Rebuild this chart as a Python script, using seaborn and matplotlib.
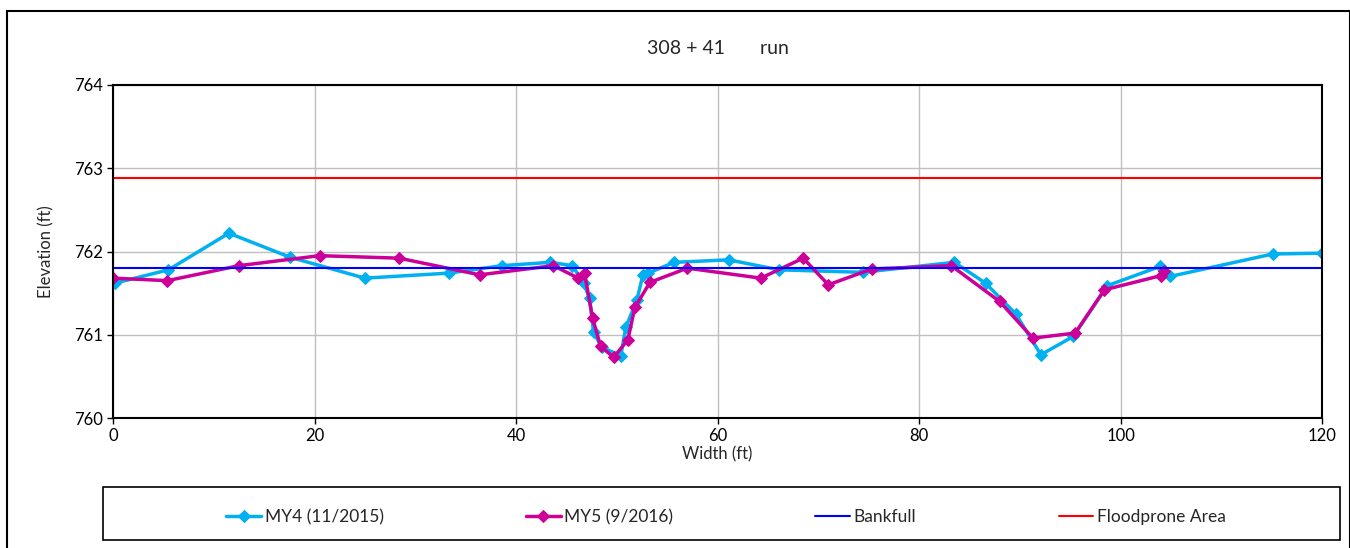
import matplotlib
matplotlib.use('Agg')
import matplotlib.pyplot as plt
import seaborn as sns
import pandas as pd
from matplotlib.patches import Rectangle

# cross-section survey data
my4_x = [0.2, 5.5, 11.5, 17.6, 25.0, 33.3, 38.6, 43.4, 45.6, 46.7, 47.3, 47.7, 48.5,
         50.4, 50.9, 52.0, 52.6, 53.1, 55.7, 61.1, 66.1, 74.4, 83.5, 86.6, 89.6,
         92.1, 95.3, 98.7, 103.9, 104.9, 115.1, 120.0]
my4_y = [761.62, 761.78, 762.22, 761.93, 761.68, 761.74, 761.83, 761.87, 761.83, 761.62,
         761.44, 761.03, 760.85, 760.75, 761.09, 761.42, 761.72, 761.74, 761.87, 761.90,
         761.78, 761.75, 761.87, 761.62, 761.25, 760.76, 760.98, 761.59, 761.82, 761.70,
         761.97, 761.98]
my5_x = [0.0, 5.4, 12.5, 20.5, 28.4, 36.4, 43.7, 46.2, 46.8, 47.6, 48.4, 49.7, 51.1,
         51.8, 53.3, 57.0, 64.3, 68.5, 71.0, 75.3, 83.2, 88.0, 91.3, 95.5, 98.4,
         104.0, 104.3]
my5_y = [761.68, 761.65, 761.83, 761.95, 761.92, 761.72, 761.83, 761.68, 761.74, 761.20,
         760.86, 760.73, 760.94, 761.33, 761.63, 761.80, 761.68, 761.92, 761.60, 761.79,
         761.83, 761.40, 760.96, 761.02, 761.54, 761.71, 761.77]
bankfull = 761.80
floodprone = 762.88

sns.set_style('white')
plt.rcParams['font.family'] = ['Lato', 'DejaVu Sans']

fig = plt.figure(figsize=(13.5, 5.48), dpi=100)
ax = fig.add_axes([0.0837, 0.2372, 0.8956, 0.6077])

df4 = pd.DataFrame({'x': my4_x, 'y': my4_y})
df5 = pd.DataFrame({'x': my5_x, 'y': my5_y})

sns.lineplot(data=df4, x='x', y='y', sort=False, estimator=None, ax=ax,
             color='#00B0F0', linewidth=2.5, marker='D', markersize=6,
             markeredgecolor='#00B0F0', label='MY4 (11/2015)')
sns.lineplot(data=df5, x='x', y='y', sort=False, estimator=None, ax=ax,
             color='#CC0099', linewidth=2.5, marker='D', markersize=6,
             markeredgecolor='#CC0099', label='MY5 (9/2016)')
sns.lineplot(x=[0, 120], y=[bankfull, bankfull], ax=ax, color='#0000FF',
             linewidth=1.5, label='Bankfull')
sns.lineplot(x=[0, 120], y=[floodprone, floodprone], ax=ax, color='#FF0000',
             linewidth=1.5, label='Floodprone Area')

ax.set_xlim(0, 120)
ax.set_ylim(760, 764)
ax.set_xticks(range(0, 121, 20))
ax.set_yticks(range(760, 765))
ax.grid(True, color='#BFBFBF', linewidth=1)
ax.set_axisbelow(True)
for s in ax.spines.values():
    s.set_color('black')
    s.set_linewidth(1.5)
ax.tick_params(axis='both', direction='out', length=4, width=1, colors='black',
               labelsize=12, left=True, bottom=True)
ax.set_xlabel('Width (ft)', fontsize=12, labelpad=1)
ax.set_ylabel('Elevation (ft)', fontsize=12, labelpad=14)
ax.set_title('308 + 41       run', fontsize=14, pad=22)

ax.get_legend().remove()
handles, labels = ax.get_legend_handles_labels()
leg = fig.legend(handles, labels, ncol=4, loc='center',
                 bbox_to_anchor=(726 / 1350, (548 - 517) / 548),
                 fontsize=12.5, frameon=False, handlelength=2.0,
                 handletextpad=0.2, columnspacing=8.2)

# legend box and chart area border
fig.patches.append(Rectangle((103 / 1350, 8 / 548), 1237 / 1350, 53 / 548,
                             transform=fig.transFigure, fill=False,
                             edgecolor='black', linewidth=1.2))
fig.patches.append(Rectangle((0.005, -0.01), 0.995, 0.99, transform=fig.transFigure,
                             fill=False, edgecolor='black', linewidth=1.5))

fig.savefig('out.png', dpi=100)
